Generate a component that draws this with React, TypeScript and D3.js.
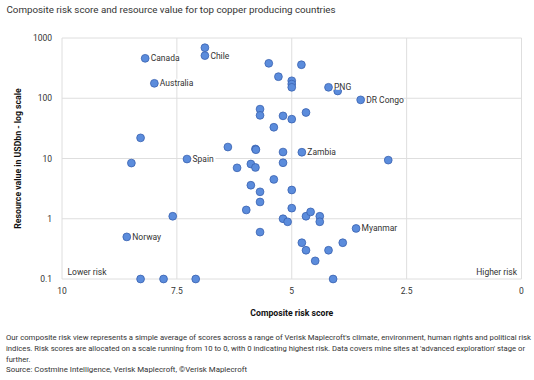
import React from "react";
import * as d3 from "d3";

const riskScores = [
  6.89, 6.89, 8.19, 7.99, 5.5, 4.79, 5.29, 5.0, 5.0, 5.0, 4.2, 4.0, 3.5, 5.69, 5.69, 5.19, 5.0, 4.69, 5.39,
  8.29, 6.39, 5.79, 5.78, 5.19, 4.78, 8.49, 7.28, 6.19, 5.89, 5.79, 5.19, 2.9, 5.39, 5.89, 5.69, 5.0, 5.69,
  5.99, 5.0, 5.19, 5.09, 4.69, 4.59, 4.39, 4.39, 7.59, 8.59, 5.69, 3.6, 4.78, 3.89, 4.69, 4.2, 4.49, 8.29,
  7.79, 7.09, 4.1,
];
const resourceValues = [
  690, 510, 460, 177, 380, 360, 228, 195, 172, 152, 152, 132, 94, 66, 52, 51, 45, 58, 33, 22, 15.5, 14.4, 14.0,
  12.8, 12.7, 8.4, 9.8, 7.0, 8.1, 7.1, 8.5, 9.4, 4.5, 3.6, 2.8, 3.0, 1.9, 1.4, 1.5, 1.0, 0.89, 1.1, 1.3, 1.1,
  0.89, 1.1, 0.5, 0.6, 0.69, 0.4, 0.4, 0.3, 0.3, 0.2, 0.1, 0.1, 0.1, 0.1,
];
const pointLabels = [
  "", "Chile", "Canada", "Australia", "", "", "", "", "", "", "PNG", "", "DR Congo", "", "", "", "", "", "",
  "", "", "", "", "", "Zambia", "", "Spain", "", "", "", "", "", "", "", "", "", "", "", "", "", "", "", "",
  "", "", "", "Norway", "", "Myanmar", "", "", "", "", "", "", "", "", "",
];
const xTicks = [10, 7.5, 5, 2.5, 0];
const xTickLabels = ["10", "7.5", "5", "2.5", "0"];
const yTicks = [0.1, 1, 10, 100, 1000];
const yTickLabels = ["0.1", "1", "10", "100", "1000"];

const title = "Composite risk score and resource value for top copper producing countries";
const xTitle = "Composite risk score";
const yTitle = "Resource value in USDbn - log scale";
const footLines = [
  "Our composite risk view represents a simple average of scores across a range of Verisk Maplecroft's climate, environment, human rights and political risk",
  "indices. Risk scores are allocated on a scale running from 10 to 0, with 0 indicating highest risk. Data covers mine sites at 'advanced exploration' stage or",
  "further.",
  "Source: Costmine Intelligence, Verisk Maplecroft, \u00A9Verisk Maplecroft",
];
const footWidths = [525, 519, 0, 241];

export default function App() {
  const W = 534;
  const H = 380;
  const x = d3.scaleLinear().domain([10, 0]).range([62, 521.5]);
  const y = d3.scaleLog().domain([0.1, 1000]).range([279, 38]);
  const font = "Roboto, 'Noto Sans', sans-serif";
  const txt = "#333";
  const grid = "#dedede";

  return (
    <svg
      width={W}
      height={H}
      style={{ position: "absolute", left: 0, top: 0, background: "#fff", fontFamily: font }}
    >
      <rect x={0} y={0} width={W} height={H} fill="#fff" />
      <text x={6.5} y={12.5} fontSize={9.5} fill={txt} textLength={329} lengthAdjust="spacingAndGlyphs">
        {title}
      </text>

      {xTicks.map((t) => (
        <line key={"gx" + t} x1={x(t)} x2={x(t)} y1={y(1000)} y2={y(0.1)} stroke={grid} strokeWidth={1} />
      ))}
      {yTicks.map((t) => (
        <line key={"gy" + t} x1={x(10)} x2={x(0)} y1={y(t)} y2={y(t)} stroke={grid} strokeWidth={1} />
      ))}

      {yTicks.map((t, i) => (
        <text key={"ty" + t} x={52} y={y(t) + 3} fontSize={8.5} fill={txt} textAnchor="end">
          {yTickLabels[i]}
        </text>
      ))}
      {xTicks.map((t, i) => (
        <text key={"tx" + t} x={x(t)} y={293.5} fontSize={8.5} fill={txt} textAnchor="middle">
          {xTickLabels[i]}
        </text>
      ))}

      <text x={(x(10) + x(0)) / 2} y={315.5} fontSize={8.7} fontWeight="bold" fill="#111" textAnchor="middle">
        {xTitle}
      </text>
      <text
        transform={`translate(21, ${(y(1000) + y(0.1)) / 2}) rotate(-90)`}
        fontSize={8.7}
        fontWeight="bold"
        fill="#111"
        textAnchor="middle"
      >
        {yTitle}
      </text>

      <text x={67.5} y={274.5} fontSize={8.5} fill={txt}>
        Lower risk
      </text>
      <text x={517} y={274.5} fontSize={8.5} fill={txt} textAnchor="end">
        Higher risk
      </text>

      {riskScores.map((s, i) => (
        <circle
          key={"p" + i}
          cx={x(s)}
          cy={y(resourceValues[i])}
          r={3.9}
          fill="#5b8cdc"
          stroke="#3a62b0"
          strokeWidth={0.8}
        />
      ))}

      {riskScores.map((s, i) =>
        pointLabels[i] ? (
          <g key={"l" + i}>
            <rect
              x={x(s) + 5}
              y={y(resourceValues[i]) - 4.5}
              width={pointLabels[i].length * 4.7}
              height={7}
              fill="#fff"
            />
            <text x={x(s) + 5.5} y={y(resourceValues[i]) + 3} fontSize={8.5} fill={txt}>
              {pointLabels[i]}
            </text>
          </g>
        ) : null
      )}

      {footLines.map((line, i) => (
        <text
          key={"f" + i}
          x={6}
          y={340 + i * 10.8}
          fontSize={7.6}
          fill={txt}
          {...(footWidths[i] ? { textLength: footWidths[i], lengthAdjust: "spacingAndGlyphs" } : {})}
        >
          {line}
        </text>
      ))}
    </svg>
  );
}
